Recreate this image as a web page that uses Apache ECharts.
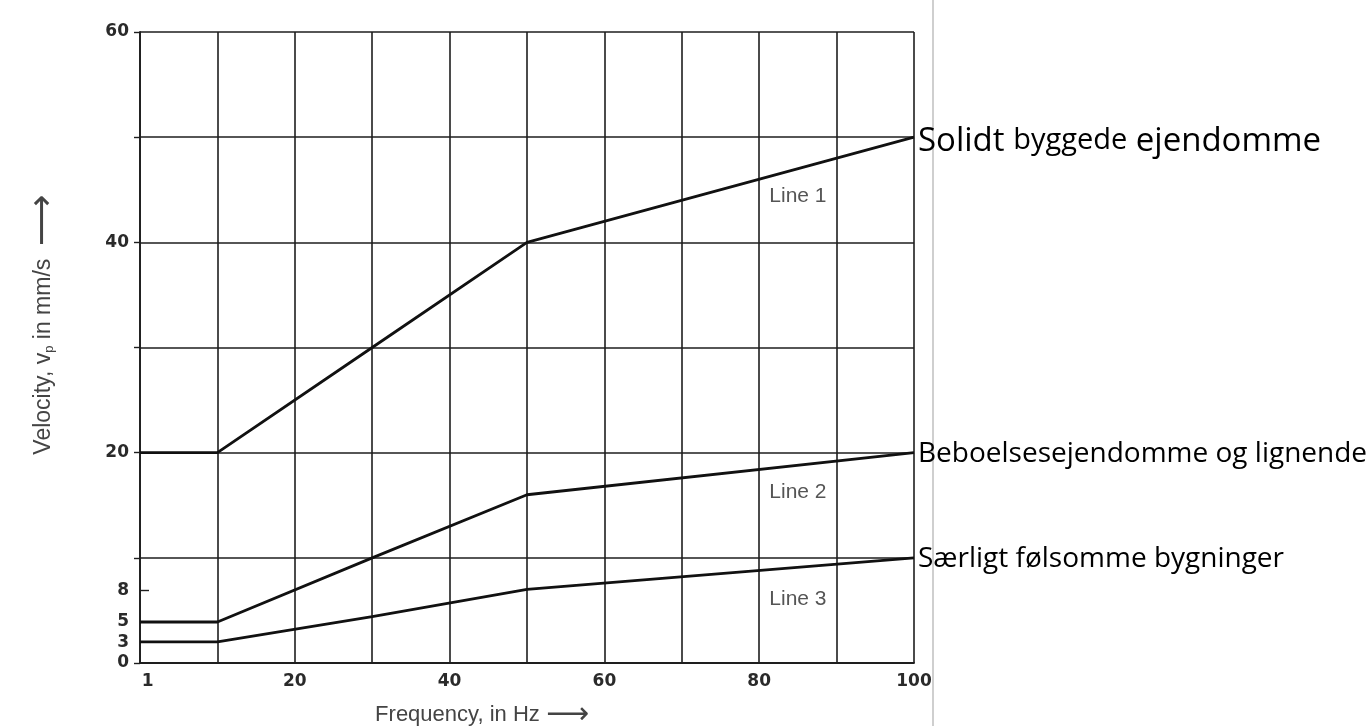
<!DOCTYPE html>
<html>
<head>
<meta charset="utf-8">
<script src="https://cdn.jsdelivr.net/npm/echarts@6/dist/echarts.min.js"></script>
<style>
  html, body { margin: 0; padding: 0; background: #ffffff; }
  #chart { width: 1366px; height: 726px; }
</style>
</head>
<body>
<div id="chart"></div>
<script>
// ---- data ----
const frequency = [0, 10, 30, 50, 100];
const line1 = [20, 20, 30, 40, 50];
const line2 = [3.9, 3.9, 10, 16, 20];
const line3 = [2, 2, 4.4, 7, 10];
const seriesNames = ['Solidt byggede ejendomme', 'Beboelsesejendomme og lignende', 'Særligt følsomme bygninger'];
const lineTags = ['Line 1', 'Line 2', 'Line 3'];
const lineTagPos = [[85, 44.4], [85, 16.2], [85, 6.1]];
const xLabelValues = [1, 20, 40, 60, 80, 100];
const xLabelTexts = ['1', '20', '40', '60', '80', '100'];
const yLabelValues = [0, 1.9, 3.9, 6.9, 20, 40, 60];
const yLabelTexts = ['0', '3', '5', '8', '20', '40', '60'];
const yInnerTickValues = [6.9];

const chart = echarts.init(document.getElementById('chart'), null, { renderer: 'canvas' });

function pairs(ys) { return frequency.map((f, i) => [f, ys[i]]); }
function lookup(vals, texts) {
  return function (v) {
    for (let i = 0; i < vals.length; i++) if (Math.abs(vals[i] - v) < 1e-6) return texts[i];
    return '';
  };
}

const tickFont = { fontFamily: 'DejaVu Sans', fontWeight: 'bold', fontSize: 17, color: '#2a2a2a' };
const allLines = [line1, line2, line3];

const series = allLines.map((ys, i) => ({
  type: 'line',
  name: seriesNames[i],
  data: pairs(ys),
  symbol: 'none',
  silent: true,
  lineStyle: { color: '#111', width: 2.8 },
  endLabel: {
    show: true,
    distance: 4,
    formatter: i === 0 ? '{big|Solidt }{small|byggede}{big| ejendomme}' : '{mid|{a}}',
    rich: {
      big: { fontFamily: 'Open Sans', fontSize: 33, color: '#000', padding: [8, 0, 0, 0] },
      small: { fontFamily: 'Open Sans', fontSize: 29, color: '#000', padding: [8, 0, 0, 0] },
      mid: { fontFamily: 'Open Sans', fontSize: 28, color: '#000', padding: [2, 0, 0, 0] }
    }
  },
  markPoint: {
    symbol: 'circle',
    symbolSize: 0,
    silent: true,
    label: { show: true, position: 'inside', formatter: lineTags[i], fontFamily: 'Liberation Sans', fontSize: 21, color: '#555' },
    data: [{ coord: lineTagPos[i] }]
  }
}));

const option = {
  animation: false,
  backgroundColor: '#ffffff',
  grid: { left: 140, right: 452, top: 32, bottom: 63, containLabel: false, outerBoundsMode: 'none' },
  xAxis: {
    type: 'value',
    min: 0, max: 100, interval: 10,
    name: '{t|Frequency, in Hz }{a|⟶}',
    nameLocation: 'middle',
    nameGap: 37,
    nameTextStyle: {
      padding: [0, 90, 0, 0],
      rich: {
        t: { fontFamily: 'Liberation Sans', fontSize: 22, color: '#444', verticalAlign: 'middle' },
        a: { fontFamily: 'DejaVu Sans', fontSize: 30, color: '#444', verticalAlign: 'middle' }
      }
    },
    axisLine: { show: true, lineStyle: { color: '#1e1e1e', width: 1.8 } },
    axisTick: { show: false },
    axisLabel: { ...tickFont, margin: 10, customValues: xLabelValues, formatter: lookup(xLabelValues, xLabelTexts) },
    splitLine: { show: true, lineStyle: { color: '#1e1e1e', width: 1.6 } }
  },
  yAxis: [{
    type: 'value',
    min: 0, max: 60, interval: 10,
    name: '{t|Velocity, v}{s|p}{t| in mm/s  }{a|⟶}',
    nameLocation: 'middle',
    nameGap: 78,
    nameRotate: 90,
    nameTextStyle: {
      padding: [0, 0, 0, 46],
      rich: {
        t: { fontFamily: 'Liberation Sans', fontSize: 23, color: '#444', verticalAlign: 'middle' },
        s: { fontFamily: 'Liberation Sans', fontSize: 13, color: '#444', verticalAlign: 'middle', padding: [10, 0, 0, 0] },
        a: { fontFamily: 'DejaVu Sans', fontSize: 36, color: '#444', verticalAlign: 'middle' }
      }
    },
    axisLine: { show: true, lineStyle: { color: '#1e1e1e', width: 1.8 } },
    axisTick: { show: true, length: 6, lineStyle: { color: '#1e1e1e', width: 1.4 } },
    axisLabel: { ...tickFont, margin: 11, customValues: yLabelValues, formatter: lookup(yLabelValues, yLabelTexts) },
    splitLine: { show: true, lineStyle: { color: '#1e1e1e', width: 1.6 } }
  }, {
    type: 'value',
    min: 0, max: 60, interval: 10,
    position: 'left',
    axisLine: { show: false },
    axisTick: { show: true, inside: true, length: 9, customValues: yInnerTickValues, lineStyle: { color: '#1e1e1e', width: 1.4 } },
    axisLabel: { show: false },
    splitLine: { show: false }
  }],
  graphic: [{
    type: 'line',
    silent: true,
    shape: { x1: 933, y1: 0, x2: 933, y2: 726 },
    style: { stroke: '#cfcfcf', lineWidth: 2 }
  }],
  series: series
};

chart.setOption(option);
</script>
</body>
</html>
